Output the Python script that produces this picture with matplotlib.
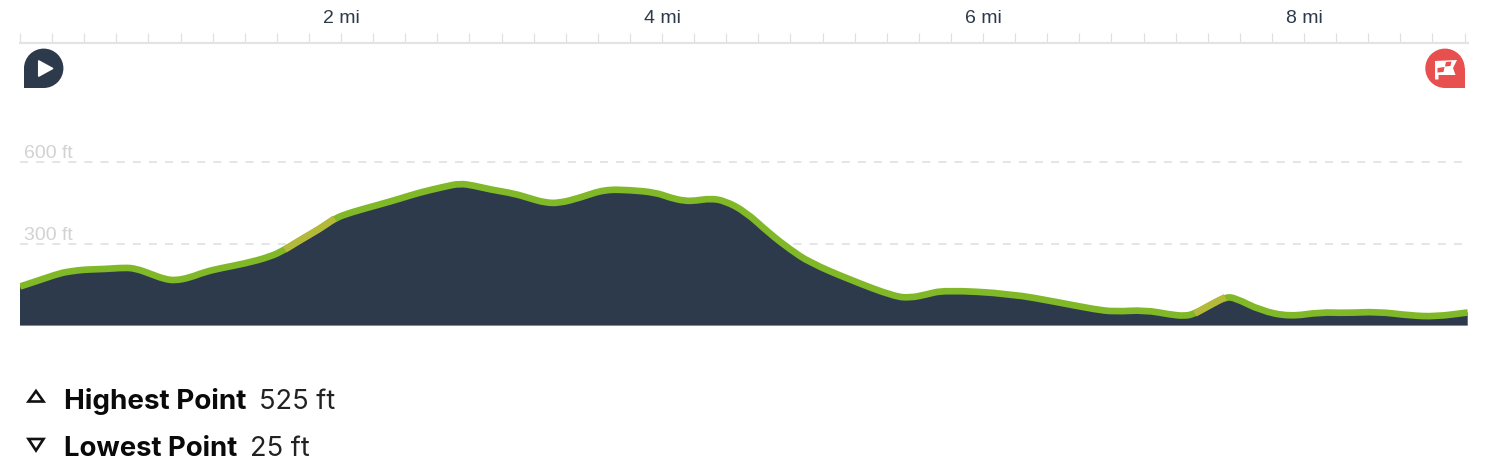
import matplotlib
matplotlib.use("Agg")
import matplotlib.pyplot as plt
from matplotlib.patches import Circle, Rectangle, Polygon, PathPatch
from matplotlib.path import Path

# elevation profile
miles = [0.00, 0.12, 0.25, 0.32, 0.40, 0.53, 0.65, 0.72, 0.81, 0.90, 0.97, 1.06, 1.15, 1.25,
         1.40, 1.56, 1.65, 1.74, 1.87, 1.96, 2.06, 2.24, 2.37, 2.49, 2.65, 2.74, 2.83, 2.93,
         3.08, 3.18, 3.27, 3.36, 3.49, 3.64, 3.80, 3.96, 4.05, 4.14, 4.21, 4.30, 4.39, 4.52,
         4.67, 4.80, 4.92, 5.17, 5.45, 5.55, 5.64, 5.76, 6.17, 6.48, 6.70, 6.82, 7.01, 7.17,
         7.26, 7.32, 7.43, 7.51, 7.57, 7.73, 7.91, 8.10, 8.26, 8.46, 8.66, 8.82, 9.02]
feet = [143, 166, 192, 199, 205, 207, 212, 209, 190, 170, 165, 176, 196, 210,
        227, 252, 278, 311, 355, 392, 414, 443, 465, 487, 509, 520, 512, 498,
        483, 465, 450, 448, 468, 498, 496, 487, 468, 456, 457, 465, 457, 417,
        337, 278, 231, 168, 106, 102, 113, 130, 117, 84, 59, 51, 57, 40,
        35, 44, 80, 104, 102, 55, 33, 49, 46, 51, 37, 33, 48]

x_ticks = [0.2 * i for i in range(46)]
x_labels = {10: "2 mi", 20: "4 mi", 30: "6 mi", 40: "8 mi"}
y_lines = [300, 600]
y_labels = ["300 ft", "600 ft"]

NAVY = "#2d3a4b"
GREEN = "#80b828"
YELLOW = "#b5b93a"
RED = "#e85050"
GREY = "#e3e3e3"

plt.rcParams["lines.scale_dashes"] = False
plt.rcParams["font.family"] = ["Liberation Sans", "DejaVu Sans"]


def smooth_verts(xs, ys):
    # rounded corners: each read point is the control of a quadratic curve
    verts = [(xs[0], ys[0])]
    codes = [Path.MOVETO]
    for i in range(1, len(xs) - 1):
        verts += [(xs[i], ys[i]), ((xs[i] + xs[i + 1]) / 2, (ys[i] + ys[i + 1]) / 2)]
        codes += [Path.CURVE3, Path.CURVE3]
    verts.append((xs[-1], ys[-1]))
    codes.append(Path.LINETO)
    return verts, codes


W, H = 1500, 464
fig = plt.figure(figsize=(W / 100, H / 100), dpi=100, facecolor="white")

# main axes, placed on the pixel box of the chart
left, right, top, bottom = 20, 1468, 43.6, 326.6
ax = fig.add_axes([left / W, 1 - bottom / H, (right - left) / W, (bottom - top) / H])
ax.set_xlim(0, (right - left) / 160.5)
ax.set_ylim(0, (bottom - top) * 300 / 82)
ax.patch.set_visible(False)
for side in ["left", "right", "bottom"]:
    ax.spines[side].set_visible(False)
ax.spines["top"].set_color(GREY)
ax.spines["top"].set_linewidth(1.5)

ax.xaxis.tick_top()
ax.set_xticks(x_ticks)
ax.set_xticklabels([x_labels.get(i, "") for i in range(len(x_ticks))],
                   fontsize=14, color=NAVY)
ax.tick_params(axis="x", length=7, width=0.9, color="#e0e0e0", pad=4.8)
ax.set_yticks([])

for val, lab in zip(y_lines, y_labels):
    ax.plot([0, 9.0], [val, val], color=GREY, lw=1.3, dashes=(5.8, 5.8), zorder=1)
    ax.annotate(lab, (0, val), xytext=(3, 0.5), textcoords="offset points",
                fontsize=14, color="#d2d2d2", ha="left", va="bottom")

verts, codes = smooth_verts(miles, feet)

# area under the profile
area = Path(verts + [(miles[-1], 0), (miles[0], 0), (miles[0], feet[0])],
            codes + [Path.LINETO, Path.LINETO, Path.CLOSEPOLY])
ax.add_patch(PathPatch(area, fc=NAVY, ec="none", zorder=2))
ax.plot([miles[0], miles[-1]], [0, 0], color="#4a5666", lw=0.7, zorder=3)

ax.add_patch(PathPatch(Path(verts, codes), fc="none", ec=GREEN, lw=4.8,
                       capstyle="butt", joinstyle="round", zorder=4))

# steep climbs turn yellow
i = 0
while i < len(miles) - 1:
    j = i
    while j < len(miles) - 1 and (feet[j + 1] - feet[j]) / (miles[j + 1] - miles[j]) > 295:
        j += 1
    if j > i:
        sv, sc = smooth_verts(miles[i:j + 1], feet[i:j + 1])
        ax.add_patch(PathPatch(Path(sv, sc), fc="none", ec=YELLOW, lw=4.8,
                               capstyle="butt", zorder=5))
        i = j
    else:
        i += 1

# overlay in pixel coordinates for the pins and the summary rows
ov = fig.add_axes([0, 0, 1, 1])
ov.set_xlim(0, W)
ov.set_ylim(H, 0)
ov.axis("off")

# start pin
ov.add_patch(Circle((43.7, 69.3), 19.7, fc=NAVY, ec="none"))
ov.add_patch(Rectangle((24, 69.3), 19.7, 19.7, fc=NAVY, ec="none"))
ov.add_patch(Polygon([(38.8, 62), (52.5, 69.5), (38.8, 77)], fc="white", ec="white",
                     lw=1.2, joinstyle="round"))

# finish pin
ov.add_patch(Circle((1445, 69.3), 19.7, fc=RED, ec="none"))
ov.add_patch(Rectangle((1445, 69.3), 19.7, 19.7, fc=RED, ec="none"))
ov.add_patch(Polygon([(1435, 62), (1457, 61), (1453, 69), (1455.5, 76), (1438.5, 76),
                      (1438.5, 80.5), (1435, 80.5)], fc="white", ec="none"))
ov.add_patch(Polygon([(1437.5, 69), (1444.5, 68), (1443.5, 73), (1437.5, 73.5)], fc=RED, ec="none"))
ov.add_patch(Polygon([(1446, 63), (1451.5, 62.5), (1450.5, 67), (1445, 67.5)], fc=RED, ec="none"))

# summary rows
ov.add_patch(Polygon([(36, 392), (43.5, 402.5), (28.5, 402.5)], fc="none", ec="#111111", lw=1.9))
ov.add_patch(Polygon([(36, 451.5), (43.5, 440), (28.5, 440)], fc="none", ec="#111111", lw=1.9))

ov.text(63.5, 409, "Highest Point", family="Inter", weight="bold", fontsize=20, color="#0a0a0a")
ov.text(259, 409, "525 ft", family="Inter", fontsize=19.6, color="#222222")
ov.text(63.5, 456, "Lowest Point", family="Inter", weight="bold", fontsize=19.8, color="#0a0a0a")
ov.text(250, 456, "25 ft", family="Inter", fontsize=19.6, color="#222222")

fig.savefig("out.png", dpi=100)
